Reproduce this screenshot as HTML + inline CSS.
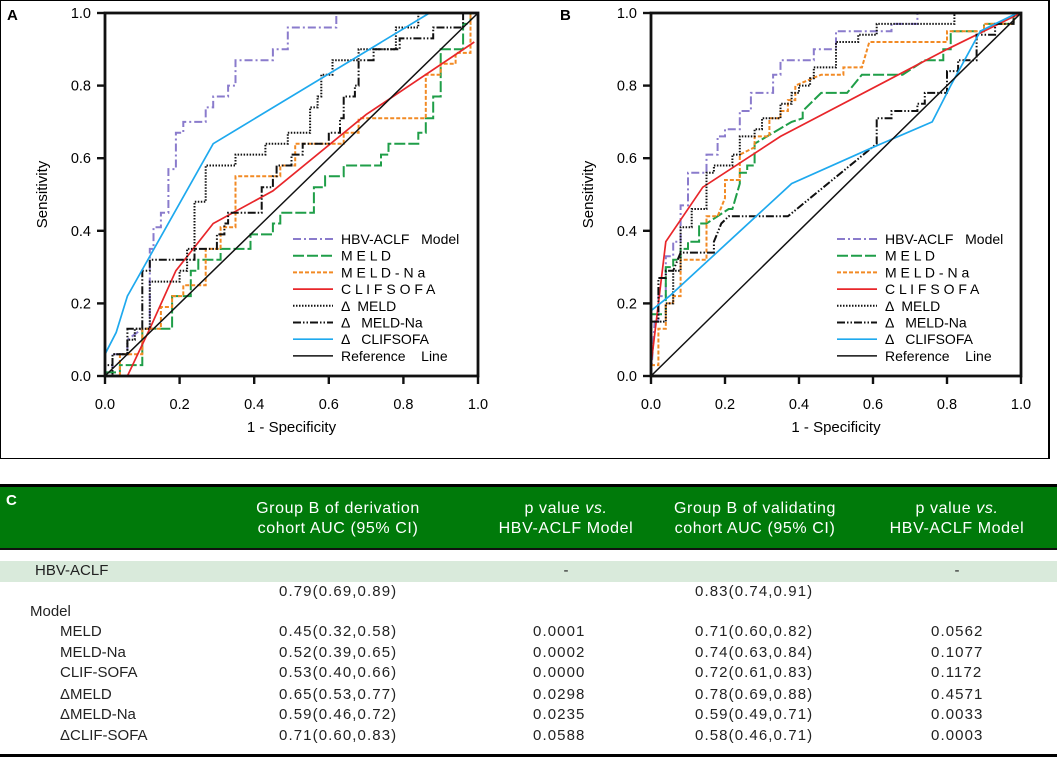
<!DOCTYPE html>
<html><head><meta charset="utf-8">
<style>
body{margin:0;background:#fff;width:1057px;height:757px;overflow:hidden;position:relative;font-family:"Liberation Sans",Arial,sans-serif}
.abs{position:absolute;white-space:pre}
.tb{font-size:15px;color:#222}
.num{letter-spacing:1.1px}
.hd{color:#fff;font-size:16px;letter-spacing:0.6px;text-align:center;line-height:20px}
</style></head><body>
<div class="abs" style="left:0;top:0;width:1047px;height:457px;border:1px solid #000;border-right-width:2px"></div>
<svg id="chart" width="1057" height="460" style="position:absolute;left:0;top:0"></svg>

<div class="abs" style="left:0;top:484px;width:1057px;height:3px;background:#000"></div>
<div class="abs" style="left:0;top:487px;width:1057px;height:61px;background:#007a0a"></div>
<div class="abs" style="left:0;top:548px;width:1057px;height:2px;background:#111"></div>
<div class="abs" style="left:6px;top:492px;color:#fff;font-weight:bold;font-size:15px">C</div>
<div class="abs hd" style="left:218px;top:499px;width:240px">Group B of derivation
cohort AUC (95% CI)</div>
<div class="abs hd" style="left:446px;top:499px;width:240px">p value <i>vs.</i>
HBV-ACLF Model</div>
<div class="abs hd" style="left:635px;top:499px;width:240px">Group B of validating
cohort AUC (95% CI)</div>
<div class="abs hd" style="left:837px;top:499px;width:240px">p value <i>vs.</i>
HBV-ACLF Model</div>
<div class="abs" style="left:0;top:561px;width:1057px;height:21px;background:#d9eadb"></div>
<div class="abs" style="left:0;top:754px;width:1057px;height:3px;background:#000"></div>
<div id="rows"></div>

<script>
// ---- Chart data ----
const xTicks=[0,0.2,0.4,0.6,0.8,1.0];
const yTicks=[0,0.2,0.4,0.6,0.8,1.0];
const tickLabels=["0.0","0.2","0.4","0.6","0.8","1.0"];
const seriesNames=["HBV-ACLF   Model","M E L D","M E L D - N a","C L I F S O F A","Δ  MELD","Δ   MELD-Na","Δ   CLIFSOFA","Reference    Line"];
const seriesColors=["#8a7bcc","#1f9e48","#f28a24","#e8262a","#111","#111","#1ea9ee","#111"];
const seriesDash=["8,3,2,3","11,3","4,2","","1.5,1.5","8,2,1.5,2,1.5,2","",""];
const seriesWidth=[2,2,2,1.7,2,2,1.7,1.5];

const aHBV=[[0,0],[0.02,0],[0.02,0.06],[0.06,0.06],[0.06,0.1],[0.1,0.13],[0.12,0.13],[0.12,0.35],[0.13,0.35],[0.13,0.41],[0.15,0.41],[0.15,0.45],[0.17,0.45],[0.17,0.57],[0.19,0.57],[0.19,0.67],[0.21,0.67],[0.21,0.7],[0.27,0.7],[0.27,0.74],[0.29,0.74],[0.29,0.77],[0.33,0.77],[0.33,0.8],[0.35,0.8],[0.35,0.87],[0.45,0.87],[0.45,0.9],[0.49,0.9],[0.49,0.96],[0.62,0.96],[0.62,1.0]];
const aMELD=[[0,0.01],[0.04,0.01],[0.04,0.03],[0.1,0.03],[0.1,0.13],[0.18,0.13],[0.18,0.22],[0.23,0.22],[0.23,0.29],[0.25,0.29],[0.25,0.32],[0.31,0.32],[0.31,0.35],[0.39,0.35],[0.39,0.39],[0.45,0.39],[0.45,0.42],[0.47,0.42],[0.47,0.45],[0.56,0.45],[0.56,0.52],[0.59,0.52],[0.59,0.55],[0.64,0.55],[0.64,0.58],[0.74,0.58],[0.74,0.61],[0.76,0.61],[0.76,0.64],[0.84,0.64],[0.84,0.67],[0.86,0.67],[0.86,0.71],[0.88,0.71],[0.88,0.77],[0.9,0.77],[0.9,0.9],[0.96,0.9],[0.96,0.97],[0.98,0.97],[0.98,1.0]];
const aMELDNa=[[0.04,0],[0.04,0.06],[0.1,0.06],[0.1,0.13],[0.15,0.13],[0.15,0.19],[0.18,0.19],[0.18,0.22],[0.21,0.22],[0.21,0.25],[0.27,0.25],[0.27,0.35],[0.31,0.35],[0.31,0.41],[0.35,0.41],[0.35,0.55],[0.47,0.55],[0.47,0.58],[0.51,0.58],[0.51,0.64],[0.64,0.64],[0.64,0.67],[0.68,0.67],[0.68,0.71],[0.86,0.71],[0.86,0.83],[0.9,0.83],[0.9,0.86],[0.94,0.86],[0.94,0.89],[0.98,0.89],[0.98,1.0]];
const aCLIF=[[0.06,0],[0.12,0.13],[0.19,0.29],[0.29,0.42],[0.45,0.51],[0.7,0.72],[0.99,0.92]];
const aDMELD=[[0,0],[0.02,0],[0.02,0.06],[0.06,0.06],[0.06,0.1],[0.08,0.1],[0.08,0.13],[0.12,0.13],[0.12,0.26],[0.2,0.26],[0.2,0.29],[0.22,0.29],[0.22,0.35],[0.24,0.35],[0.24,0.48],[0.27,0.48],[0.27,0.58],[0.35,0.58],[0.35,0.61],[0.43,0.61],[0.43,0.64],[0.49,0.64],[0.49,0.67],[0.55,0.67],[0.55,0.74],[0.57,0.74],[0.57,0.77],[0.58,0.77],[0.58,0.83],[0.61,0.83],[0.61,0.87],[0.68,0.87],[0.68,0.9],[0.78,0.9],[0.78,0.96],[0.84,0.96],[0.84,1.0],[1,1]];
const aDMELDNa=[[0,0],[0,0.03],[0.02,0.03],[0.02,0.06],[0.06,0.06],[0.06,0.13],[0.1,0.13],[0.1,0.29],[0.12,0.29],[0.12,0.32],[0.24,0.32],[0.24,0.35],[0.3,0.35],[0.3,0.39],[0.32,0.39],[0.32,0.42],[0.33,0.42],[0.33,0.45],[0.42,0.45],[0.42,0.52],[0.45,0.52],[0.45,0.55],[0.46,0.55],[0.46,0.58],[0.5,0.58],[0.5,0.61],[0.53,0.61],[0.53,0.64],[0.6,0.64],[0.6,0.67],[0.63,0.67],[0.63,0.71],[0.64,0.71],[0.64,0.77],[0.67,0.77],[0.67,0.8],[0.68,0.8],[0.68,0.87],[0.72,0.87],[0.72,0.9],[0.79,0.9],[0.79,0.93],[0.88,0.93],[0.88,0.96],[0.96,0.96],[0.96,1.0],[1,1]];
const aDCLIF=[[0,0.06],[0.03,0.12],[0.06,0.22],[0.29,0.64],[0.87,1.0]];
const refLine=[[0,0],[1,1]];

const bHBV=[[0,0],[0.01,0.15],[0.02,0.15],[0.02,0.22],[0.04,0.22],[0.04,0.33],[0.06,0.33],[0.06,0.37],[0.08,0.37],[0.08,0.47],[0.1,0.47],[0.1,0.56],[0.15,0.56],[0.15,0.61],[0.18,0.61],[0.18,0.66],[0.2,0.66],[0.2,0.68],[0.24,0.68],[0.24,0.73],[0.27,0.73],[0.27,0.78],[0.33,0.78],[0.33,0.83],[0.35,0.83],[0.35,0.87],[0.44,0.87],[0.44,0.9],[0.5,0.9],[0.5,0.95],[0.65,0.95],[0.65,0.97],[0.72,0.97],[0.72,1.0],[0.83,1.0]];
const bMELD=[[0,0.17],[0.04,0.17],[0.04,0.3],[0.06,0.3],[0.06,0.32],[0.08,0.32],[0.08,0.35],[0.1,0.35],[0.1,0.37],[0.13,0.37],[0.13,0.42],[0.15,0.42],[0.21,0.46],[0.22,0.46],[0.24,0.53],[0.24,0.56],[0.26,0.56],[0.26,0.58],[0.28,0.58],[0.28,0.64],[0.38,0.7],[0.41,0.71],[0.41,0.73],[0.46,0.78],[0.53,0.78],[0.57,0.83],[0.68,0.83],[0.74,0.87],[0.79,0.87],[0.79,0.9],[0.81,0.9],[0.81,0.95],[0.9,0.95],[0.9,0.97],[0.98,0.97],[0.98,1.0],[1,1]];
const bMELDNa=[[0,0.03],[0.02,0.03],[0.02,0.13],[0.04,0.13],[0.04,0.2],[0.06,0.2],[0.06,0.22],[0.08,0.22],[0.08,0.32],[0.15,0.32],[0.15,0.44],[0.18,0.44],[0.2,0.49],[0.2,0.54],[0.24,0.54],[0.24,0.61],[0.28,0.63],[0.28,0.66],[0.32,0.66],[0.32,0.71],[0.35,0.71],[0.35,0.73],[0.37,0.73],[0.37,0.76],[0.39,0.76],[0.39,0.8],[0.46,0.83],[0.52,0.83],[0.52,0.85],[0.57,0.85],[0.59,0.92],[0.8,0.92],[0.8,0.95],[0.9,0.95],[0.9,0.97],[0.98,0.97],[0.98,1.0]];
const bCLIF=[[0,0.03],[0.02,0.2],[0.04,0.37],[0.14,0.52],[0.35,0.66],[0.8,0.9],[1,1]];
const bDMELD=[[0,0.15],[0.04,0.15],[0.04,0.2],[0.06,0.2],[0.06,0.29],[0.08,0.29],[0.08,0.41],[0.11,0.41],[0.11,0.46],[0.15,0.46],[0.15,0.56],[0.17,0.56],[0.17,0.58],[0.22,0.58],[0.22,0.61],[0.24,0.61],[0.24,0.66],[0.28,0.66],[0.28,0.68],[0.3,0.68],[0.3,0.71],[0.35,0.71],[0.35,0.75],[0.38,0.75],[0.38,0.78],[0.4,0.78],[0.4,0.8],[0.43,0.8],[0.43,0.82],[0.44,0.82],[0.44,0.85],[0.5,0.85],[0.5,0.92],[0.56,0.92],[0.56,0.94],[0.61,0.94],[0.61,0.97],[0.82,0.97],[0.82,1.0]];
const bDMELDNa=[[0,0.15],[0.02,0.15],[0.02,0.27],[0.04,0.27],[0.04,0.29],[0.06,0.29],[0.08,0.34],[0.17,0.34],[0.17,0.37],[0.19,0.42],[0.21,0.44],[0.37,0.44],[0.61,0.64],[0.61,0.71],[0.65,0.71],[0.65,0.73],[0.72,0.73],[0.72,0.75],[0.74,0.75],[0.74,0.78],[0.8,0.78],[0.8,0.84],[0.83,0.84],[0.83,0.87],[0.88,0.87],[0.88,0.94],[0.93,0.94],[0.93,0.97],[0.98,0.97],[0.98,1.0]];
const bDCLIF=[[0,0.18],[0.05,0.22],[0.38,0.53],[0.6,0.63],[0.76,0.7],[0.81,0.8],[0.89,0.95],[0.99,1.0]];

const panelA=[aHBV,aMELD,aMELDNa,aCLIF,aDMELD,aDMELDNa,aDCLIF,refLine];
const panelB=[bHBV,bMELD,bMELDNa,bCLIF,bDMELD,bDMELDNa,bDCLIF,refLine];
const seriesKeys=["hbv-aclf","meld","meld-na","clifsofa","delta-meld","delta-meld-na","delta-clifsofa","reference"];

const NS="http://www.w3.org/2000/svg";
const svg=document.getElementById('chart');
function mk(tag,attrs,parent){const e=document.createElementNS(NS,tag);for(const k in attrs)e.setAttribute(k,attrs[k]);(parent||svg).appendChild(e);return e;}

function drawPanel(p,label,x0,x1,y0,y1,lx,data){
  const g=mk('g',{});
  
  
  const sx=v=>x0+v*(x1-x0), sy=v=>y1-v*(y1-y0);
  const pl=mk('text',{x:p,y:20,'font-size':15,'font-weight':'bold','font-family':'Liberation Sans'},g);pl.textContent=label;
  
  
  data.forEach((pts,i)=>{
    const d=pts.map((q,j)=>(j?'L':'M')+sx(q[0]).toFixed(1)+','+sy(q[1]).toFixed(1)).join(' ');
    const path=mk('path',{d:d,fill:'none',stroke:seriesColors[i],'stroke-width':seriesWidth[i],'stroke-dasharray':seriesDash[i]},g);
    
    
  });
  const fr=mk('rect',{x:x0,y:y0,width:x1-x0,height:y1-y0,fill:'none',stroke:'#111','stroke-width':2.8},g);
  
  
  xTicks.forEach((v,i)=>{
    mk('line',{x1:sx(v),x2:sx(v),y1:y1,y2:y1+8,stroke:'#111','stroke-width':2.4},g);
    const t=mk('text',{x:sx(v),y:y1+33,'text-anchor':'middle','font-size':14.5,'font-family':'Liberation Sans'},g);t.textContent=tickLabels[i];
    
    
  });
  yTicks.forEach((v,i)=>{
    mk('line',{x1:x0-8,x2:x0,y1:sy(v),y2:sy(v),stroke:'#111','stroke-width':2.4},g);
    const t=mk('text',{x:x0-14,y:sy(v)+5,'text-anchor':'end','font-size':14.5,'font-family':'Liberation Sans'},g);t.textContent=tickLabels[i];
    
    
  });
  const xt=mk('text',{x:(x0+x1)/2,y:y1+56,'text-anchor':'middle','font-size':15,'font-family':'Liberation Sans'},g);xt.textContent='1 - Specificity';
  
  
  const yt=mk('text',{x:0,y:0,'text-anchor':'middle','font-size':15,'font-family':'Liberation Sans',transform:`translate(${x0-58},${(y0+y1)/2}) rotate(-90)`},g);yt.textContent='Sensitivity';
  
  
  seriesNames.forEach((n,i)=>{
    const y=243+i*16.7;
    mk('line',{x1:lx,x2:lx+40,y1:y-4,y2:y-4,stroke:seriesColors[i],'stroke-width':seriesWidth[i],'stroke-dasharray':seriesDash[i]},g);
    const t=mk('text',{x:lx+48,y:y+1,'font-size':14,'font-family':'Liberation Sans'},g);
    t.style.whiteSpace='pre';t.textContent=n;
    
    
  });
}
drawPanel(7,'A',105,478,13,376,293,panelA);
drawPanel(560,'B',651,1021,13,376,837,panelB);

// ---- Table ----
const rowLabels=["HBV-ACLF","","Model","MELD","MELD-Na","CLIF-SOFA","ΔMELD","ΔMELD-Na","ΔCLIF-SOFA"];
const rowIndent=[35,0,30,60,60,60,60,60,60];
const col1=["","0.79(0.69,0.89)","","0.45(0.32,0.58)","0.52(0.39,0.65)","0.53(0.40,0.66)","0.65(0.53,0.77)","0.59(0.46,0.72)","0.71(0.60,0.83)"];
const col2=["-","","","0.0001","0.0002","0.0000","0.0298","0.0235","0.0588"];
const col3=["","0.83(0.74,0.91)","","0.71(0.60,0.82)","0.74(0.63,0.84)","0.72(0.61,0.83)","0.78(0.69,0.88)","0.59(0.49,0.71)","0.58(0.46,0.71)"];
const col4=["-","","","0.0562","0.1077","0.1172","0.4571","0.0033","0.0003"];
const rowY=[562,583,603,623,644,664,686,706,727];
const rows=document.getElementById('rows');
function cell(txt,left,top,name,center,num){
  const d=document.createElement('div');
  d.className='abs tb'+(num?' num':'');
  d.style.left=left+'px';d.style.top=top+'px';
  if(center){d.style.width='40px';d.style.textAlign='center';}
  d.textContent=txt;
  
  
  rows.appendChild(d);
}
rowLabels.forEach((l,i)=>{
  if(l)cell(l,rowIndent[i],rowY[i],'row-label');
  if(col1[i])cell(col1[i],279,rowY[i],'derivation-auc',false,true);
  if(col2[i]==='-')cell('-',546,rowY[i],'p-derivation',true);
  else if(col2[i])cell(col2[i],533,rowY[i],'p-derivation',false,true);
  if(col3[i])cell(col3[i],695,rowY[i],'validating-auc',false,true);
  if(col4[i]==='-')cell('-',937,rowY[i],'p-validating',true);
  else if(col4[i])cell(col4[i],931,rowY[i],'p-validating',false,true);
});
</script>
</body></html>
